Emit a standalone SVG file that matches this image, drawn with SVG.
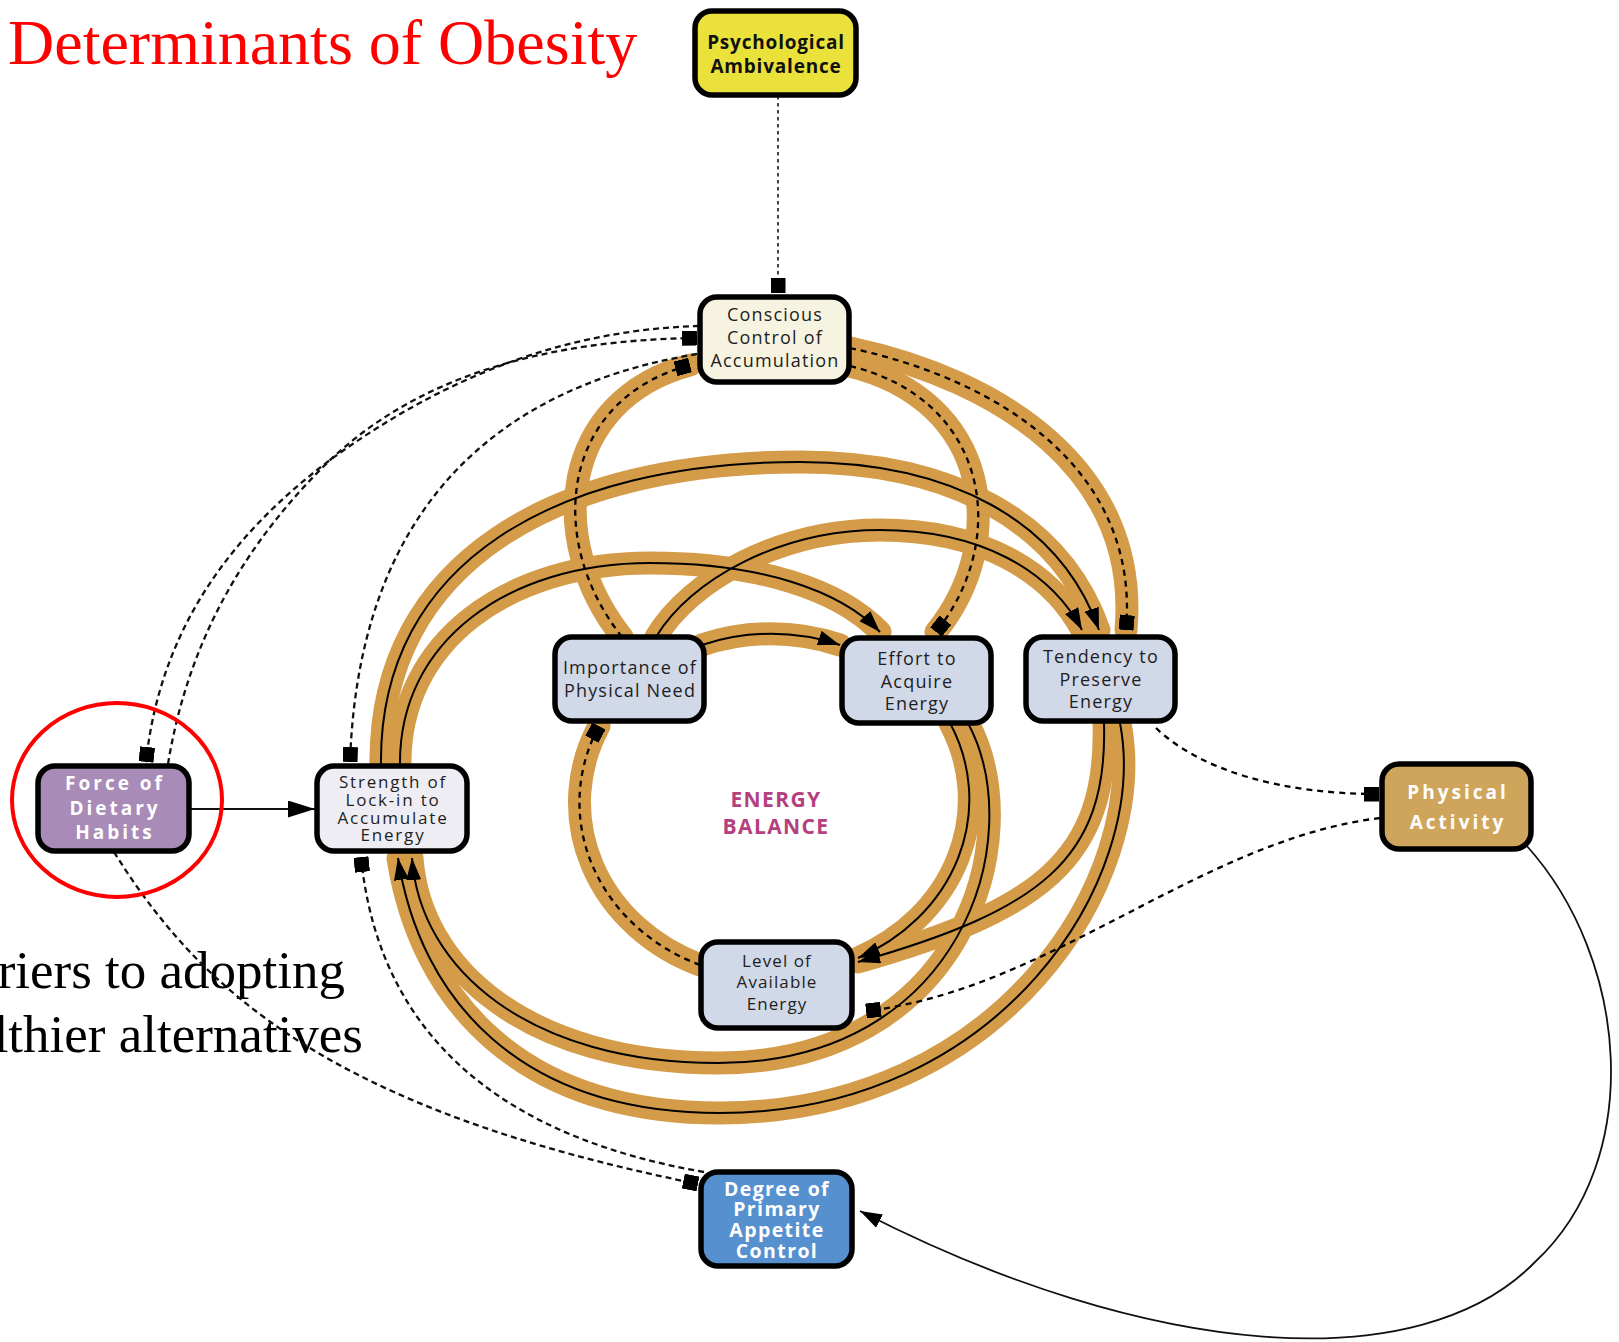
<svg xmlns="http://www.w3.org/2000/svg" width="1619" height="1342" viewBox="0 0 1619 1342">
  <style>
    .band { fill: none; stroke: #D49B48; stroke-width: 23; stroke-linecap: round; }
    .solid { fill: none; stroke: #000; stroke-width: 2; }
    .dash { fill: none; stroke: #000; stroke-width: 2.3; stroke-dasharray: 6 5; }
    .dot { fill: none; stroke: #111; stroke-width: 2.3; stroke-dasharray: 6 4; }
    .fine { fill: none; stroke: #444; stroke-width: 2; stroke-dasharray: 3.5 3.5; }
    .thin { fill: none; stroke: #111; stroke-width: 1.8; }
    .box { stroke: #000; stroke-width: 5.5; }
    .lbl { font-family: "Open Sans", "Noto Sans", sans-serif; font-size: 18px; fill: #1e1e1e; text-anchor: middle; letter-spacing: 1.2px; }
    .sm { font-size: 17px; letter-spacing: 1.8px; }
    .lv { font-size: 17px; letter-spacing: 1.1px; }
    .wb { font-weight: bold; fill: #fff; font-size: 19px; letter-spacing: 3px; }
    .db { font-weight: bold; fill: #fff; font-size: 19.5px; letter-spacing: 1.4px; }
    .pb { font-weight: bold; fill: #111; font-size: 19px; letter-spacing: 0.8px; }
    .eb { font-family: "Open Sans", "Noto Sans", sans-serif; font-weight: bold; font-size: 21px; fill: #B4407E; text-anchor: middle; letter-spacing: 1.4px; }
    .serif { font-family: "Liberation Serif", "Times New Roman", serif; }
  </style>
  <defs>
    <marker id="arrow" markerUnits="userSpaceOnUse" markerWidth="22" markerHeight="15" refX="22" refY="7.5" orient="auto">
      <path d="M0,0 L22,7.5 L0,15 z" fill="#000"/>
    </marker>
    <marker id="arrowBig" markerUnits="userSpaceOnUse" markerWidth="27" markerHeight="17" refX="27" refY="8.5" orient="auto">
      <path d="M0,0 L27,8.5 L0,17 z" fill="#000"/>
    </marker>
    <marker id="sq" markerUnits="userSpaceOnUse" markerWidth="15" markerHeight="15" refX="15" refY="7.5" orient="auto">
      <rect width="15" height="15" fill="#000"/>
    </marker>
  </defs>

  <rect width="1619" height="1342" fill="#fff"/>

  <!-- heading and side note -->
  <text class="serif" x="8" y="64" font-size="64" fill="#FF0000">Determinants of Obesity</text>
  <text class="serif" x="345" y="988" font-size="53" fill="#000" text-anchor="end">riers to adopting</text>
  <text class="serif" x="363" y="1052" font-size="53" fill="#000" text-anchor="end">lthier alternatives</text>

  <g id="connectors">
    <!-- orange energy-balance bands -->
    <g id="bands">
      <path class="band" d="M622,637 C545,540 560,400 690,365"/>
      <path class="band" d="M850,366 C990,400 1010,540 936,632"/>
      <path class="band" d="M850,348 C1000,380 1140,470 1126,630"/>
      <path class="band" d="M702,645 A196,176 0 0 1 840,645"/>
      <path class="band" d="M656,637 C690,580 780,530 880,530 C980,530 1050,570 1082,630"/>
      <path class="band" d="M400,766 C398,640 510,563 650,563 C760,563 840,590 880,632"/>
      <path class="band" d="M381,766 C378,560 560,462 800,462 C950,462 1060,520 1099,630"/>
      <path class="band" d="M950,723 A196,176 0 0 1 858,958"/>
      <path class="band" d="M968,723 C1030,840 960,1063 718,1063 C530,1063 420,970 412,858"/>
      <path class="band" d="M1120,723 C1150,880 1000,1113 720,1113 C520,1113 420,1000 398,858"/>
      <path class="band" d="M1104,723 C1108,860 1040,910 858,962"/>
      <path class="band" d="M700,965 A196,176 0 0 1 599,726"/>
    </g>

    <!-- links inside the bands -->
    <g id="loop-links">
      <path class="dash" d="M622,637 C545,540 560,400 690,365" marker-end="url(#sq)"/>
      <path class="dash" d="M850,366 C990,400 1010,540 936,632" marker-end="url(#sq)"/>
      <path class="dash" d="M850,348 C1000,380 1140,470 1126,630" marker-end="url(#sq)"/>
      <path class="solid" d="M702,645 A196,176 0 0 1 840,645" marker-end="url(#arrow)"/>
      <path class="solid" d="M656,637 C690,580 780,530 880,530 C980,530 1050,570 1082,630" marker-end="url(#arrow)"/>
      <path class="solid" d="M400,766 C398,640 510,563 650,563 C760,563 840,590 880,632" marker-end="url(#arrow)"/>
      <path class="solid" d="M381,766 C378,560 560,462 800,462 C950,462 1060,520 1099,630" marker-end="url(#arrow)"/>
      <path class="solid" d="M950,723 A196,176 0 0 1 858,958" marker-end="url(#arrow)"/>
      <path class="solid" d="M968,723 C1030,840 960,1063 718,1063 C530,1063 420,970 412,858" marker-end="url(#arrow)"/>
      <path class="solid" d="M1120,723 C1150,880 1000,1113 720,1113 C520,1113 420,1000 398,858" marker-end="url(#arrow)"/>
      <path class="solid" d="M1104,723 C1108,860 1040,910 858,962" marker-end="url(#arrow)"/>
      <path class="dash" d="M700,965 A196,176 0 0 1 599,726" marker-end="url(#sq)"/>
    </g>

    <!-- outer links -->
    <g id="outer-links">
      <path class="fine" d="M778,96 L778,293" marker-end="url(#sq)"/>
      <path class="dot" d="M699,326 C560,330 440,380 330,460 C230,535 160,630 146,762" marker-end="url(#sq)"/>
      <path class="dot" d="M168,764 C185,660 230,560 323,467 C416,374 550,340 697,338" marker-end="url(#sq)"/>
      <path class="dot" d="M697,354 C540,380 360,470 350,762" marker-end="url(#sq)"/>
      <path class="dot" d="M704,1172 C520,1140 380,1050 361,857" marker-end="url(#sq)"/>
      <path class="dot" d="M114,852 C200,990 330,1110 698,1184" marker-end="url(#sq)"/>
      <path class="dash" d="M1156,728 C1200,770 1280,794 1379,794" marker-end="url(#sq)"/>
      <path class="dash" d="M1380,818 C1200,840 1050,990 866,1011" marker-end="url(#sq)"/>
      <path class="thin" d="M1526,845 C1630,960 1645,1160 1535,1262 C1420,1380 1150,1360 860,1211" marker-end="url(#arrow)"/>
      <path class="thin" stroke="#333" d="M190,809 L315,809" marker-end="url(#arrowBig)"/>
    </g>
  </g>

  <!-- nodes -->
  <g id="psychological-ambivalence">
    <rect class="box" x="695" y="11" width="161" height="84" rx="17" fill="#EAE23A"/>
    <text class="lbl pb" x="776" y="49">Psychological</text>
    <text class="lbl pb" x="776" y="73">Ambivalence</text>
  </g>
  <g id="conscious-control">
    <rect class="box" x="700" y="297" width="149" height="85" rx="17" fill="#F7F3E1"/>
    <text class="lbl" x="775" y="321">Conscious</text>
    <text class="lbl" x="775" y="344">Control of</text>
    <text class="lbl" x="775" y="367">Accumulation</text>
  </g>
  <g id="importance-need">
    <rect class="box" x="555" y="637" width="149" height="84" rx="17" fill="#D1D8E8"/>
    <text class="lbl" x="630" y="674">Importance of</text>
    <text class="lbl" x="630" y="697">Physical Need</text>
  </g>
  <g id="effort-acquire">
    <rect class="box" x="842" y="638" width="149" height="85" rx="17" fill="#D1D8E8"/>
    <text class="lbl" x="917" y="665">Effort to</text>
    <text class="lbl" x="917" y="688">Acquire</text>
    <text class="lbl" x="917" y="710">Energy</text>
  </g>
  <g id="tendency-preserve">
    <rect class="box" x="1026" y="637" width="149" height="84" rx="17" fill="#D1D8E8"/>
    <text class="lbl" x="1101" y="663">Tendency to</text>
    <text class="lbl" x="1101" y="686">Preserve</text>
    <text class="lbl" x="1101" y="708">Energy</text>
  </g>
  <g id="dietary-habits">
    <rect class="box" x="38" y="766" width="151" height="85" rx="17" fill="#A88BB6"/>
    <text class="lbl wb" x="115" y="790">Force of</text>
    <text class="lbl wb" x="115" y="815">Dietary</text>
    <text class="lbl wb" x="115" y="839">Habits</text>
  </g>
  <g id="lock-in">
    <rect class="box" x="317" y="766" width="150" height="85" rx="17" fill="#EEEDF3"/>
    <text class="lbl sm" x="393" y="788">Strength of</text>
    <text class="lbl sm" x="393" y="806">Lock-in to</text>
    <text class="lbl sm" x="393" y="824">Accumulate</text>
    <text class="lbl sm" x="393" y="841">Energy</text>
  </g>
  <g id="physical-activity">
    <rect class="box" x="1382" y="764" width="149" height="85" rx="17" fill="#CFA55C"/>
    <text class="lbl wb" x="1458" y="799">Physical</text>
    <text class="lbl wb" x="1458" y="829">Activity</text>
  </g>
  <g id="available-energy">
    <rect class="box" x="701" y="942" width="151" height="86" rx="17" fill="#D1D8E8"/>
    <text class="lbl lv" x="777" y="967">Level of</text>
    <text class="lbl lv" x="777" y="988">Available</text>
    <text class="lbl lv" x="777" y="1010">Energy</text>
  </g>
  <g id="appetite-control">
    <rect class="box" x="701" y="1172" width="151" height="94" rx="17" fill="#5690CE"/>
    <text class="lbl db" x="777" y="1196">Degree of</text>
    <text class="lbl db" x="777" y="1216">Primary</text>
    <text class="lbl db" x="777" y="1237">Appetite</text>
    <text class="lbl db" x="777" y="1258">Control</text>
  </g>

  <g id="energy-balance">
    <text class="eb" x="776" y="807">ENERGY</text>
    <text class="eb" x="776" y="834">BALANCE</text>
  </g>

  <ellipse id="highlight" cx="117" cy="800" rx="105" ry="97" fill="none" stroke="#FF0000" stroke-width="4"/>
</svg>
